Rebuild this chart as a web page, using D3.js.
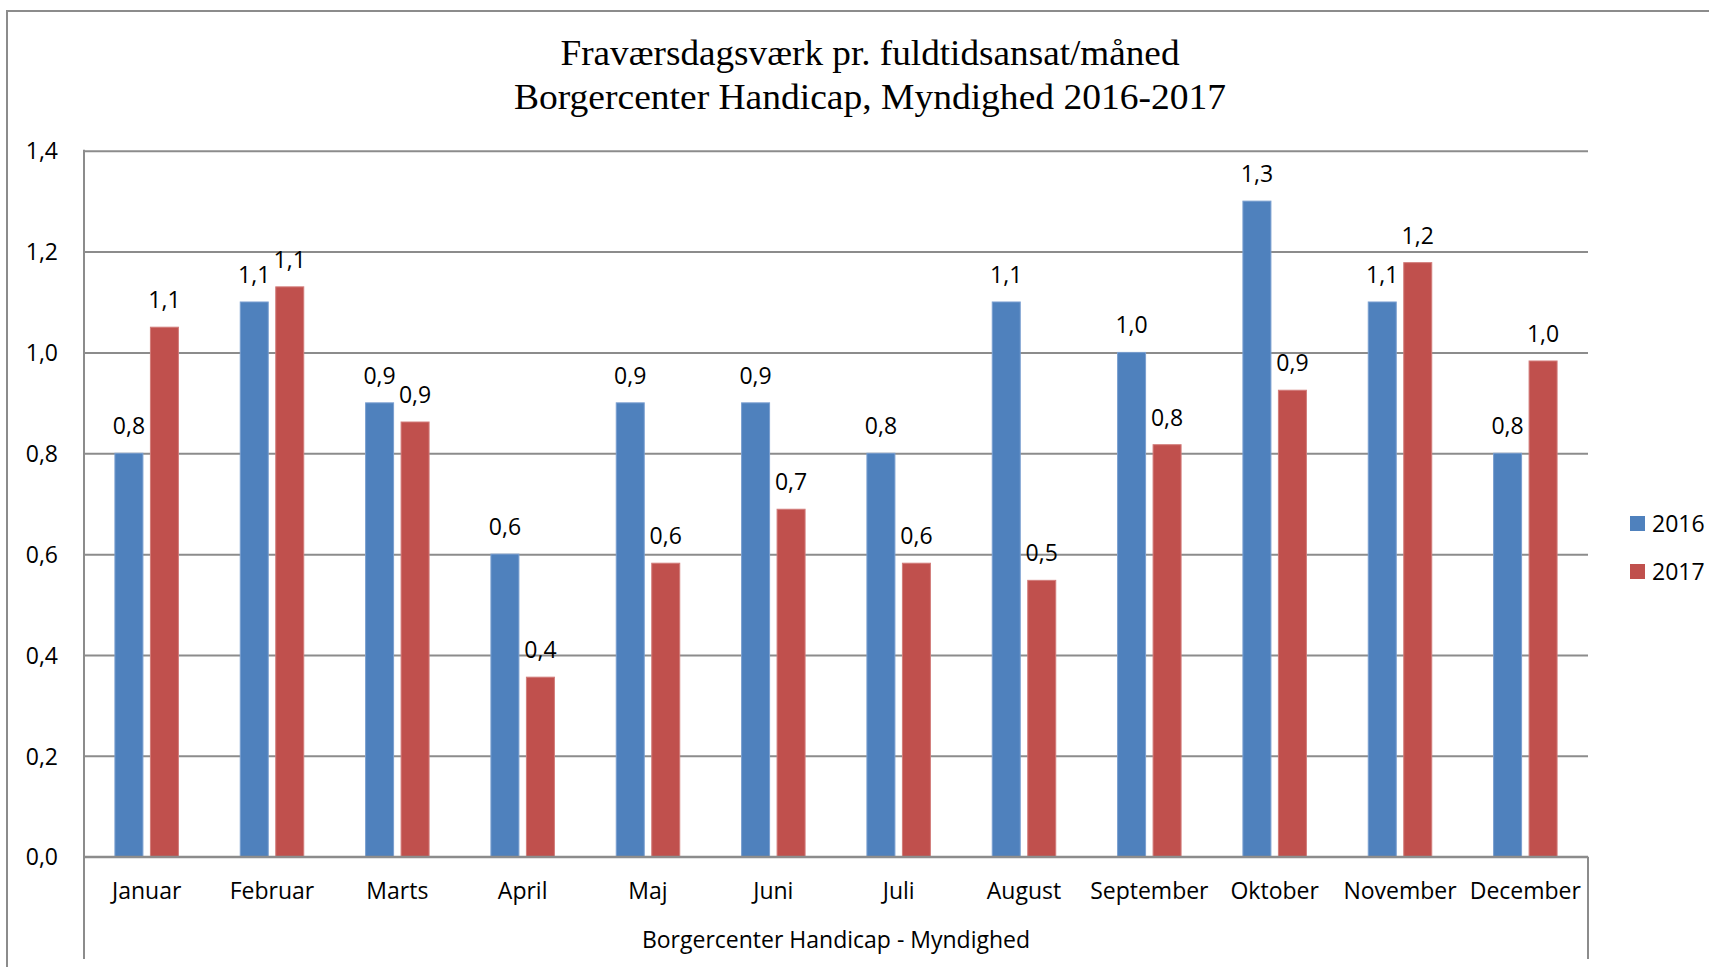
<!DOCTYPE html>
<html>
<head>
<meta charset="utf-8">
<script src="https://cdnjs.cloudflare.com/ajax/libs/d3/7.8.5/d3.min.js"></script>
<style>
    body{ margin:0; background:#fff; }
    svg{ display:block; }
    .sans{ font-family: "Open Sans", "Noto Sans", sans-serif; fill:#000; }
    .serif{ font-family: "Liberation Serif", "DejaVu Serif", serif; fill:#000; }
</style>
</head>
<body>
<div id="chart"></div>
<script>

// data
const months = ["Januar", "Februar", "Marts", "April", "Maj", "Juni", "Juli", "August", "September", "Oktober", "November", "December"];
const seriesNames = ["2016", "2017"];
const values2016 = [0.8, 1.1, 0.9, 0.6, 0.9, 0.9, 0.8, 1.1, 1.0, 1.3, 1.1, 0.8];
const values2017 = [1.05, 1.13, 0.862, 0.356, 0.582, 0.689, 0.582, 0.548, 0.817, 0.925, 1.178, 0.983];
const yTicks = [0, 0.2, 0.4, 0.6, 0.8, 1.0, 1.2, 1.4];
const titleLines = ["Fraværsdagsværk pr. fuldtidsansat/måned", "Borgercenter Handicap, Myndighed 2016-2017"];
const axisTitle = "Borgercenter Handicap - Myndighed";

const colors = ["#4F81BD", "#C0504D"];
const strokes = ["#7A9FD0", "#D27C7A"];
const gridColor = "#8c8c8c";
const fontSize = 23;

class BarChart{

    constructor( selector ){
        this.width = 1709;
        this.height = 967;
        this.plot = { left: 84, right: 1588, top: 150.7, bottom: 856.7, axisBottom: 959 };
        this.da = d3.formatLocale({ decimal: ",", thousands: ".", grouping: [3], currency: ["", " kr."] });
        this.fmt = this.da.format(".1f");
        this.svg = d3.select(selector).append("svg")
            .attr("width", this.width)
            .attr("height", this.height);
        this.init();
    }

    init(){
        this.createScales();
        this.drawFrame();
        this.drawTitle();
        this.drawGrid();
        this.drawBars();
        this.drawLabels();
        this.drawXAxis();
        this.drawLegend();
    }

    createScales(){
        this.x0 = d3.scaleBand()
            .domain(months)
            .range([this.plot.left, this.plot.right])
            .padding(0);

        // two bars of 28px with 7.5px gap, centred in each month
        let groupW = 63.5;
        this.x1 = d3.scaleBand()
            .domain(seriesNames)
            .range([this.x0.bandwidth() / 2 - groupW / 2, this.x0.bandwidth() / 2 + groupW / 2])
            .paddingInner(7.5 / 35.5)
            .paddingOuter(0);

        this.y = d3.scaleLinear()
            .domain([0, 1.4])
            .range([this.plot.bottom, this.plot.top]);
    }

    drawFrame(){
        this.svg.append("path")
            .attr("d", `M7,${this.height} V11 H${this.width}`)
            .attr("fill", "none")
            .attr("stroke", gridColor)
            .attr("stroke-width", 2);
    }

    drawTitle(){
        let lengths = [619, 712];
        let baselines = [65, 109];
        this.svg.append("g").selectAll("text")
            .data(titleLines)
            .join("text")
            .attr("class", "serif")
            .attr("x", 870)
            .attr("y", (d, i) => baselines[i])
            .attr("text-anchor", "middle")
            .attr("font-size", 35)
            .attr("textLength", (d, i) => lengths[i])
            .attr("lengthAdjust", "spacingAndGlyphs")
            .text(d => d);
    }

    drawGrid(){
        let yAxis = d3.axisLeft(this.y)
            .tickValues(yTicks)
            .tickSize(-(this.plot.right - this.plot.left))
            .tickPadding(26)
            .tickFormat(this.fmt);

        let g = this.svg.append("g")
            .attr("transform", `translate(${this.plot.left},0)`)
            .call(yAxis);

        g.select(".domain").remove();
        g.selectAll(".tick line")
            .attr("stroke", gridColor)
            .attr("stroke-width", 2);
        g.selectAll(".tick text")
            .attr("class", "sans")
            .attr("font-size", fontSize)
            .attr("font-family", null)
            .attr("dy", "0.36em");

        // left edge of the plot area, running down through the category labels
        this.svg.append("line")
            .attr("x1", this.plot.left).attr("x2", this.plot.left)
            .attr("y1", this.plot.top - 1).attr("y2", this.plot.axisBottom)
            .attr("stroke", gridColor)
            .attr("stroke-width", 2);

        this.svg.append("line")
            .attr("x1", this.plot.right).attr("x2", this.plot.right)
            .attr("y1", this.plot.bottom).attr("y2", this.plot.axisBottom)
            .attr("stroke", gridColor)
            .attr("stroke-width", 2);
    }

    rows(){
        return months.map((m, i) => ({
            month: m,
            values: [
                { key: seriesNames[0], value: values2016[i], idx: 0 },
                { key: seriesNames[1], value: values2017[i], idx: 1 }
            ]
        }));
    }

    drawBars(){
        let groups = this.svg.append("g").selectAll("g")
            .data(this.rows())
            .join("g")
            .attr("transform", d => `translate(${this.x0(d.month)},0)`);

        groups.selectAll("rect")
            .data(d => d.values)
            .join("rect")
            .attr("x", d => this.x1(d.key))
            .attr("width", this.x1.bandwidth())
            .attr("y", d => this.y(d.value))
            .attr("height", d => this.y(0) - this.y(d.value))
            .attr("fill", d => colors[d.idx])
            .attr("stroke", d => strokes[d.idx])
            .attr("stroke-width", 1);

        this.groups = groups;
    }

    drawLabels(){
        this.groups.selectAll("text")
            .data(d => d.values)
            .join("text")
            .attr("class", "sans")
            .attr("font-size", fontSize)
            .attr("text-anchor", "middle")
            .attr("x", d => this.x1(d.key) + this.x1.bandwidth() / 2)
            .attr("y", d => this.y(d.value) - 19)
            .text(d => this.fmt(d.value));
    }

    drawXAxis(){
        // baseline
        this.svg.append("line")
            .attr("x1", this.plot.left).attr("x2", this.plot.right)
            .attr("y1", this.y(0)).attr("y2", this.y(0))
            .attr("stroke", gridColor)
            .attr("stroke-width", 2);

        this.svg.append("g").selectAll("text")
            .data(months)
            .join("text")
            .attr("class", "sans")
            .attr("font-size", fontSize)
            .attr("text-anchor", "middle")
            .attr("x", d => this.x0(d) + this.x0.bandwidth() / 2)
            .attr("y", 899)
            .text(d => d);

        this.svg.append("text")
            .attr("class", "sans")
            .attr("font-size", fontSize)
            .attr("text-anchor", "middle")
            .attr("x", (this.plot.left + this.plot.right) / 2)
            .attr("y", 948)
            .text(axisTitle);
    }

    drawLegend(){
        let lg = this.svg.append("g")
            .attr("transform", "translate(1630,516)");

        let items = lg.selectAll("g")
            .data(seriesNames)
            .join("g")
            .attr("transform", (d, i) => `translate(0,${i * 48})`);

        items.append("rect")
            .attr("width", 15)
            .attr("height", 15)
            .attr("fill", (d, i) => colors[i]);

        items.append("text")
            .attr("class", "sans")
            .attr("font-size", fontSize)
            .attr("x", 22)
            .attr("y", 15.5)
            .text(d => d);
    }
};

var chart = new BarChart("#chart");

</script>
</body>
</html>
